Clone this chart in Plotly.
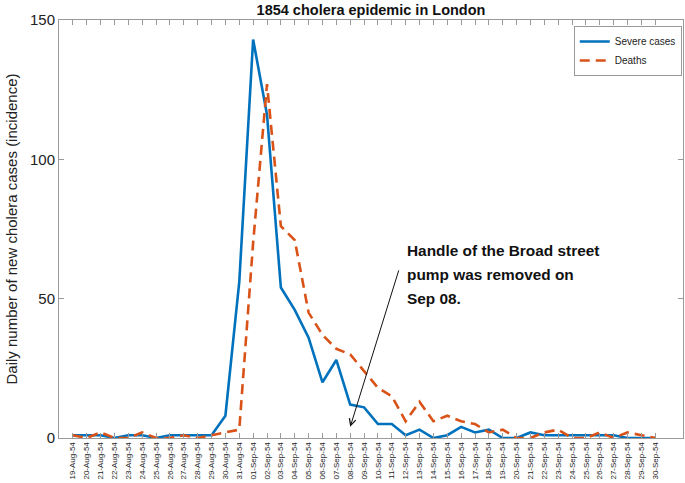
import plotly.graph_objects as go

dates = ([f"{d:02d}-Aug-54" for d in range(19, 32)] +
         [f"{d:02d}-Sep-54" for d in range(1, 31)])
severe_cases = [1, 1, 1, 0, 1, 1, 0, 1, 1, 1, 1, 8, 56,
                143, 116, 54, 46, 36, 20, 28, 12, 11, 5, 5, 1, 3, 0, 1, 4, 2, 3,
                0, 0, 2, 1, 1, 1, 1, 1, 1, 0, 0, 0]
deaths = [1, 0, 2, 0, 0, 2, 0, 0, 1, 0, 1, 2, 3,
          70, 127, 76, 71, 45, 37, 32, 30, 24, 18, 15, 6, 13, 6, 8, 6, 5, 2,
          3, 0, 0, 2, 3, 0, 0, 2, 0, 2, 1, 0]
y_ticks = [0, 50, 100, 150]
annotation_lines = ["Handle of the Broad street", "pump was removed on", "Sep 08."]
pump_date = "08-Sep-54"

BLUE = "#0072BD"
ORANGE = "#D95319"
AXC = "#9a9a9a"
FONT = "Liberation Sans, Arial, Helvetica, sans-serif"

fig = go.Figure()
fig.add_trace(go.Scatter(x=dates, y=severe_cases, mode="lines", name="Severe cases",
                         line=dict(color=BLUE, width=2.6)))
fig.add_trace(go.Scatter(x=dates, y=deaths, mode="lines", name="Deaths",
                         line=dict(color=ORANGE, width=2.6, dash="10px,6px")))

W, H = 685, 483
L, R, T, B = 59, 2, 20, 45

fig.update_layout(
    width=W, height=H,
    margin=dict(l=L, r=R, t=T, b=B, autoexpand=False),
    paper_bgcolor="white", plot_bgcolor="white",
    font=dict(family=FONT, color="#222"),
    title=dict(text="<b>1854 cholera epidemic in London</b>", x=(L + (W - R)) / 2 / W,
               xanchor="center", y=1 - 10 / H, yanchor="middle",
               font=dict(size=14.5, color="#111")),
    showlegend=True,
    legend=dict(x=0.998, xanchor="right", y=1 - 6 / (H - T - B), yanchor="top",
                bordercolor=AXC, borderwidth=1, bgcolor="white",
                font=dict(size=10, color="#222"), itemwidth=30,
                tracegroupgap=2),
)
fig.update_xaxes(
    type="category", categoryorder="array", categoryarray=dates, automargin=False,
    range=[-1, len(dates) + 1], tickangle=-90, tickfont=dict(size=8, color="#222"),
    ticks="inside", ticklen=5, tickcolor=AXC, showline=True, linecolor=AXC,
    mirror="ticks", showgrid=False, zeroline=False,
)
fig.update_yaxes(
    range=[0, 150], tickvals=y_ticks, tickfont=dict(size=15, color="#222"),
    ticks="inside", ticklen=5, tickcolor=AXC, showline=True, linecolor=AXC,
    mirror="ticks", showgrid=False, zeroline=False, automargin=False,
    title=dict(text="Daily number of new cholera cases (incidence)",
               font=dict(size=15, color="#222"), standoff=8),
)

# arrow
fig.add_annotation(x=pump_date, y=4, xref="x", yref="y", text="", showarrow=True,
                   ax=49, ay=-158, arrowhead=5, arrowsize=1.3, arrowwidth=1,
                   arrowcolor="#111", standoff=0)
# text lines
for i, line in enumerate(annotation_lines):
    fig.add_annotation(x=(405 - L) / (W - L - R), y=(H - B - (250 + 24 * i)) / (H - T - B),
                       xref="paper", yref="paper", xanchor="left", yanchor="middle",
                       text=f"<b>{line}</b>", showarrow=False,
                       font=dict(size=15.4, color="#111"))

fig.write_html("out.html", post_script="document.body.style.margin='0';",
               config={"displayModeBar": False})
